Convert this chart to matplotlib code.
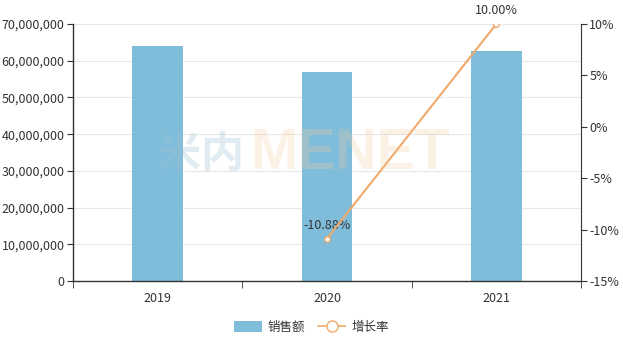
import matplotlib
matplotlib.use("Agg")
import matplotlib.pyplot as plt
from matplotlib.lines import Line2D
from matplotlib.patches import Patch
import numpy as np

plt.rcParams['font.family'] = ['Noto Sans CJK SC', 'DejaVu Sans']

categories = ["2019", "2020", "2021"]
sales = [64000000, 57040000, 62744000]
growth_x = ["2020", "2021"]
growth = [-10.88, 10.00]
growth_labels = ["-10.88%", "10.00%"]
left_ticks = [0, 10000000, 20000000, 30000000, 40000000, 50000000, 60000000, 70000000]
right_ticks = [-15, -10, -5, 0, 5, 10]

bar_color = "#7fbddb"
line_color = "#f0a96a"
text_color = "#333333"
axis_color = "#333333"

fig = plt.figure(figsize=(6.23, 3.39), dpi=100)
ax = fig.add_axes([73/623, 1-281/339, (581-73)/623, (281-24)/339])

x = np.arange(len(categories))
ax.bar(x, sales, width=0.3, color=bar_color, zorder=2)
ax.set_xlim(-0.5, len(categories)-0.5)
ax.set_ylim(0, 70000000)
ax.set_yticks(left_ticks)
ax.set_yticklabels([f"{v:,}" for v in left_ticks])
ax.grid(axis='y', color="#e8e8e8", linewidth=0.8, zorder=0)
ax.set_axisbelow(True)
ax.set_xticks(x)
ax.set_xticklabels(categories)
ax.set_xticks(np.arange(len(categories)+1)-0.5, minor=True)
ax.tick_params(axis='x', which='major', length=0, pad=8, labelsize=9, labelcolor=text_color)
ax.tick_params(axis='x', which='minor', length=5, color=axis_color, direction='out')
ax.tick_params(axis='y', length=4, color=axis_color, labelsize=9, labelcolor=text_color, pad=2)
for s in ['top', 'right']:
    ax.spines[s].set_visible(False)
for s in ['left', 'bottom']:
    ax.spines[s].set_color(axis_color)
    ax.spines[s].set_linewidth(1)

ax2 = ax.twinx()
ax2.set_ylim(-15, 10)
ax2.set_yticks(right_ticks)
ax2.set_yticklabels([f"{v}%" for v in right_ticks])
ax2.tick_params(axis='y', length=4, color=axis_color, labelsize=9, labelcolor=text_color, pad=2)
for s in ['top', 'left', 'bottom']:
    ax2.spines[s].set_visible(False)
ax2.spines['right'].set_color(axis_color)
gx = [categories.index(c) for c in growth_x]
ax2.plot(gx, growth, color=line_color, linewidth=1.5, marker='o', markersize=4,
         markerfacecolor='white', markeredgecolor=line_color, markeredgewidth=1, zorder=5)
for xi, yi, lab in zip(gx, growth, growth_labels):
    ax2.annotate(lab, (xi, yi), xytext=(0, 5), textcoords='offset points',
                 ha='center', va='bottom', fontsize=9, color=text_color)

# watermark
fig.text(158/623, 1-154/339, "米内", fontsize=31, fontweight='bold', color="#9ec3d4", alpha=0.3,
         ha='left', va='center', zorder=10)
fig.text(250/623, 1-154/339, "MENET", fontsize=41, fontweight='bold', color="#f7c99a", alpha=0.25,
         ha='left', va='center', zorder=10, family='Liberation Sans')

handles = [Patch(facecolor=bar_color, edgecolor='none'),
           Line2D([0], [0], color=line_color, marker='o', markersize=8, markerfacecolor='white',
                  markeredgecolor=line_color, linewidth=1.2)]
fig.legend(handles, ["销售额", "增长率"], loc='center', bbox_to_anchor=(0.5, 1-327/339),
           ncol=2, frameon=False, fontsize=9, handlelength=2.2, handleheight=1.0,
           columnspacing=1.0, handletextpad=0.5, labelcolor=text_color)

fig.savefig("out.png", dpi=100)
